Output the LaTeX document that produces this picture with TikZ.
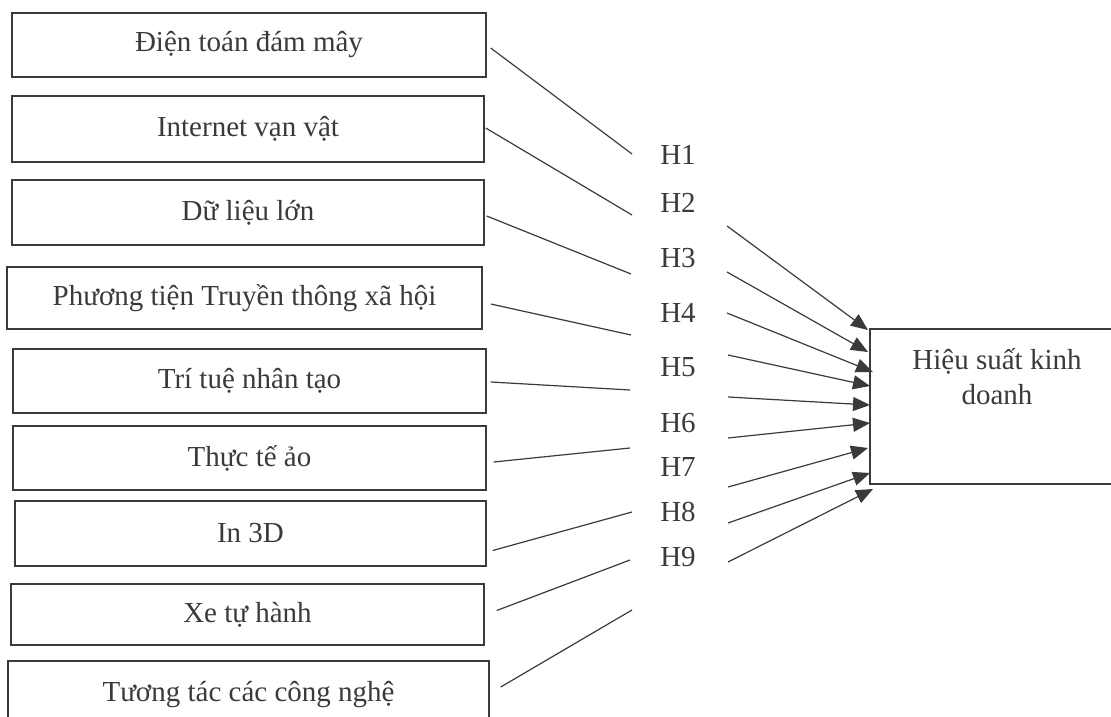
\documentclass[tikz,border=0pt]{standalone}
\usepackage{fontspec}
\setmainfont{Liberation Serif}
\usetikzlibrary{arrows.meta,calc}
\definecolor{ink}{HTML}{3A3A3A}
\begin{document}
\begin{tikzpicture}[x=0.5pt,y=-0.5pt,
  every node/.style={font=\fontsize{14.5}{17.5}\selectfont, text=ink},
  factor/.style 2 args={draw=ink, line width=0.7pt, rectangle, inner sep=0pt,
    minimum width=#1*0.5pt, minimum height=#2*0.5pt},
  hyp/.style={inner sep=0pt},
  link/.style={draw=ink, line width=0.6pt},
  arr/.style={draw=ink, line width=0.6pt, -{Triangle[length=8.5pt,width=7pt]}}]
\useasboundingbox (0,0) rectangle (1111,716);
\clip (0,0) rectangle (1111,716);

% factor boxes on the left
\node[factor={474}{64}] (b1) at (249,45) {Điện toán đám mây};
\node[factor={472}{66}] (b2) at (248,129) {Internet vạn vật};
\node[factor={472}{65}] (b3) at (248,212.5) {Dữ liệu lớn};
\node[factor={475}{62}] (b4) at (244.5,298) {Phương tiện Truyền thông xã hội};
\node[factor={473}{64}] (b5) at (249.5,381) {Trí tuệ nhân tạo};
\node[factor={473}{64}] (b6) at (249.5,458) {Thực tế ảo};
\node[factor={471}{65}] (b7) at (250.5,533.5) {In 3D};
\node[factor={473}{61}] (b8) at (247.5,614.5) {Xe tự hành};
\node[factor={481}{68}] (b9) at (248.5,695) {Tương tác các công nghệ};

% outcome box
\node[factor={260}{155}] (perf) at (1000,406.5) {};
\node[align=center] (perftxt) at (997,377) {Hiệu suất kinh\\doanh};

% hypothesis labels
\node[hyp] (h1) at (678,155) {H1};
\node[hyp] (h2) at (678,203) {H2};
\node[hyp] (h3) at (678,258) {H3};
\node[hyp] (h4) at (678,313) {H4};
\node[hyp] (h5) at (678,367) {H5};
\node[hyp] (h6) at (678,423) {H6};
\node[hyp] (h7) at (678,467) {H7};
\node[hyp] (h8) at (678,512) {H8};
\node[hyp] (h9) at (678,557) {H9};

% ends of the incoming segments
\coordinate (e1) at (632,154);
\coordinate (e2) at (632,215);
\coordinate (e3) at (631,274);
\coordinate (e4) at (631,335);
\coordinate (e5) at (630,390);
\coordinate (e6) at (630,448);
\coordinate (e7) at (632,512);
\coordinate (e8) at (630,560);
\coordinate (e9) at (632,610);

% starts and tips of the arrows
\coordinate (s1) at (727,226);
\coordinate (s2) at (727,272);
\coordinate (s3) at (727,313);
\coordinate (s4) at (728,355);
\coordinate (s5) at (728,397);
\coordinate (s6) at (728,438);
\coordinate (s7) at (728,487);
\coordinate (s8) at (728,523);
\coordinate (s9) at (728,562);
\coordinate (t1) at (868,330);
\coordinate (t2) at (868,352);
\coordinate (t3) at (873,372);
\coordinate (t4) at (870,386);
\coordinate (t5) at (870,405);
\coordinate (t6) at (870,423);
\coordinate (t7) at (868,448);
\coordinate (t8) at (870,473);
\coordinate (t9) at (873,489);

% segments from the factors
\draw[link] ($(b1.east)+(4,3)$) -- (e1);
\draw[link] ($(b2.east)+(1,-1)$) -- (e2);
\draw[link] ($(b3.east)+(2,3.5)$) -- (e3);
\draw[link] ($(b4.east)+(8,6)$) -- (e4);
\draw[link] ($(b5.east)+(4,1)$) -- (e5);
\draw[link] ($(b6.east)+(7,4)$) -- (e6);
\draw[link] ($(b7.east)+(6,17)$) -- (e7);
\draw[link] ($(b8.east)+(12,-4)$) -- (e8);
\draw[link] ($(b9.east)+(11,-8)$) -- (e9);

% arrows into the outcome
\foreach \i in {1,...,9} { \draw[arr] (s\i) -- (t\i); }
\end{tikzpicture}
\end{document}
